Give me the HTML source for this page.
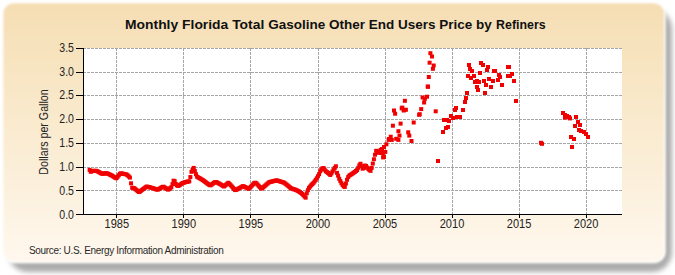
<!DOCTYPE html>
<html><head><meta charset="utf-8"><style>
html,body{margin:0;padding:0;background:#fff;width:675px;height:275px;overflow:hidden}
svg{display:block}
text{font-family:"Liberation Sans",sans-serif}
</style></head><body>
<svg width="675" height="275" viewBox="0 0 675 275">
<defs>
<linearGradient id="bg" x1="0" y1="0" x2="0" y2="1">
<stop offset="0" stop-color="#F5DEB3"/>
<stop offset="1" stop-color="#FFF8EE"/>
</linearGradient>
<filter id="sh" x="-5%" y="-5%" width="110%" height="115%"><feGaussianBlur stdDeviation="2.5"/></filter>
<filter id="bb" x="-5%" y="-5%" width="110%" height="115%"><feGaussianBlur stdDeviation="1.1"/></filter>
<filter id="bw" filterUnits="userSpaceOnUse" x="0" y="250" width="675" height="25"><feGaussianBlur stdDeviation="0.7"/></filter>
</defs>
<rect x="8" y="9" width="664" height="263" rx="20" fill="#acacac" filter="url(#sh)"/>
<rect x="2.5" y="2.5" width="662.5" height="260" rx="11" fill="url(#bg)" stroke="#fff" stroke-width="1.6" filter="url(#bb)"/>

<rect x="83" y="48" width="539" height="166" fill="#fff"/>
<g stroke="#a5a5a5" stroke-width="1" stroke-dasharray="3,1"><line x1="83" y1="190.5" x2="622" y2="190.5"/><line x1="83" y1="167.5" x2="622" y2="167.5"/><line x1="83" y1="143.5" x2="622" y2="143.5"/><line x1="83" y1="119.5" x2="622" y2="119.5"/><line x1="83" y1="95.5" x2="622" y2="95.5"/><line x1="83" y1="72.5" x2="622" y2="72.5"/><line x1="83" y1="48.5" x2="622" y2="48.5"/><line x1="116.5" y1="48" x2="116.5" y2="214"/><line x1="183.5" y1="48" x2="183.5" y2="214"/><line x1="250.5" y1="48" x2="250.5" y2="214"/><line x1="318.5" y1="48" x2="318.5" y2="214"/><line x1="385.5" y1="48" x2="385.5" y2="214"/><line x1="452.5" y1="48" x2="452.5" y2="214"/><line x1="519.5" y1="48" x2="519.5" y2="214"/><line x1="586.5" y1="48" x2="586.5" y2="214"/></g>
<g stroke="#000" stroke-width="1">
<line x1="83.5" y1="48" x2="83.5" y2="214.5"/>
<line x1="83" y1="214.5" x2="622" y2="214.5"/>
<line x1="76" y1="214.5" x2="83" y2="214.5"/><line x1="76" y1="190.5" x2="83" y2="190.5"/><line x1="76" y1="167.5" x2="83" y2="167.5"/><line x1="76" y1="143.5" x2="83" y2="143.5"/><line x1="76" y1="119.5" x2="83" y2="119.5"/><line x1="76" y1="95.5" x2="83" y2="95.5"/><line x1="76" y1="72.5" x2="83" y2="72.5"/><line x1="76" y1="48.5" x2="83" y2="48.5"/><line x1="116.5" y1="214" x2="116.5" y2="218"/><line x1="183.5" y1="214" x2="183.5" y2="218"/><line x1="250.5" y1="214" x2="250.5" y2="218"/><line x1="318.5" y1="214" x2="318.5" y2="218"/><line x1="385.5" y1="214" x2="385.5" y2="218"/><line x1="452.5" y1="214" x2="452.5" y2="218"/><line x1="519.5" y1="214" x2="519.5" y2="218"/><line x1="586.5" y1="214" x2="586.5" y2="218"/>
</g>
<g fill="#f00000"><rect x="87.64" y="167.92" width="4.0" height="4.0"/><rect x="88.76" y="169.79" width="4.0" height="4.0"/><rect x="89.88" y="169.13" width="4.0" height="4.0"/><rect x="91.00" y="168.86" width="4.0" height="4.0"/><rect x="92.12" y="168.86" width="4.0" height="4.0"/><rect x="93.24" y="168.86" width="4.0" height="4.0"/><rect x="94.35" y="168.86" width="4.0" height="4.0"/><rect x="95.47" y="169.27" width="4.0" height="4.0"/><rect x="96.59" y="169.92" width="4.0" height="4.0"/><rect x="97.71" y="170.56" width="4.0" height="4.0"/><rect x="98.83" y="171.20" width="4.0" height="4.0"/><rect x="99.95" y="171.69" width="4.0" height="4.0"/><rect x="101.07" y="171.59" width="4.0" height="4.0"/><rect x="102.19" y="171.49" width="4.0" height="4.0"/><rect x="103.31" y="171.39" width="4.0" height="4.0"/><rect x="104.43" y="171.28" width="4.0" height="4.0"/><rect x="105.55" y="171.51" width="4.0" height="4.0"/><rect x="106.67" y="172.05" width="4.0" height="4.0"/><rect x="107.78" y="172.58" width="4.0" height="4.0"/><rect x="108.90" y="173.12" width="4.0" height="4.0"/><rect x="110.02" y="173.66" width="4.0" height="4.0"/><rect x="111.14" y="174.38" width="4.0" height="4.0"/><rect x="112.26" y="175.10" width="4.0" height="4.0"/><rect x="113.38" y="175.82" width="4.0" height="4.0"/><rect x="114.50" y="176.27" width="4.0" height="4.0"/><rect x="115.62" y="174.77" width="4.0" height="4.0"/><rect x="116.74" y="173.27" width="4.0" height="4.0"/><rect x="117.86" y="171.78" width="4.0" height="4.0"/><rect x="118.98" y="171.37" width="4.0" height="4.0"/><rect x="120.10" y="171.58" width="4.0" height="4.0"/><rect x="121.21" y="171.79" width="4.0" height="4.0"/><rect x="122.33" y="171.99" width="4.0" height="4.0"/><rect x="123.45" y="172.21" width="4.0" height="4.0"/><rect x="124.57" y="172.54" width="4.0" height="4.0"/><rect x="125.69" y="173.37" width="4.0" height="4.0"/><rect x="126.81" y="174.47" width="4.0" height="4.0"/><rect x="127.93" y="175.58" width="4.0" height="4.0"/><rect x="129.05" y="181.32" width="4.0" height="4.0"/><rect x="130.17" y="185.73" width="4.0" height="4.0"/><rect x="131.29" y="185.94" width="4.0" height="4.0"/><rect x="132.41" y="186.31" width="4.0" height="4.0"/><rect x="133.53" y="187.25" width="4.0" height="4.0"/><rect x="134.64" y="188.19" width="4.0" height="4.0"/><rect x="135.76" y="189.12" width="4.0" height="4.0"/><rect x="136.88" y="190.06" width="4.0" height="4.0"/><rect x="138.00" y="189.50" width="4.0" height="4.0"/><rect x="139.12" y="188.65" width="4.0" height="4.0"/><rect x="140.24" y="187.80" width="4.0" height="4.0"/><rect x="141.36" y="186.96" width="4.0" height="4.0"/><rect x="142.48" y="186.11" width="4.0" height="4.0"/><rect x="143.60" y="185.26" width="4.0" height="4.0"/><rect x="144.72" y="184.55" width="4.0" height="4.0"/><rect x="145.84" y="184.84" width="4.0" height="4.0"/><rect x="146.96" y="185.13" width="4.0" height="4.0"/><rect x="148.07" y="185.42" width="4.0" height="4.0"/><rect x="149.19" y="185.70" width="4.0" height="4.0"/><rect x="150.31" y="185.99" width="4.0" height="4.0"/><rect x="151.43" y="186.33" width="4.0" height="4.0"/><rect x="152.55" y="186.75" width="4.0" height="4.0"/><rect x="153.67" y="187.17" width="4.0" height="4.0"/><rect x="154.79" y="187.58" width="4.0" height="4.0"/><rect x="155.91" y="187.58" width="4.0" height="4.0"/><rect x="157.03" y="186.94" width="4.0" height="4.0"/><rect x="158.15" y="186.29" width="4.0" height="4.0"/><rect x="159.27" y="185.65" width="4.0" height="4.0"/><rect x="160.39" y="185.01" width="4.0" height="4.0"/><rect x="161.50" y="184.69" width="4.0" height="4.0"/><rect x="162.62" y="185.42" width="4.0" height="4.0"/><rect x="163.74" y="186.15" width="4.0" height="4.0"/><rect x="164.86" y="186.88" width="4.0" height="4.0"/><rect x="165.98" y="187.60" width="4.0" height="4.0"/><rect x="167.10" y="187.16" width="4.0" height="4.0"/><rect x="168.22" y="186.18" width="4.0" height="4.0"/><rect x="169.34" y="185.19" width="4.0" height="4.0"/><rect x="170.46" y="182.18" width="4.0" height="4.0"/><rect x="171.58" y="178.67" width="4.0" height="4.0"/><rect x="172.70" y="179.19" width="4.0" height="4.0"/><rect x="173.82" y="181.98" width="4.0" height="4.0"/><rect x="174.93" y="183.39" width="4.0" height="4.0"/><rect x="176.05" y="183.88" width="4.0" height="4.0"/><rect x="177.17" y="183.49" width="4.0" height="4.0"/><rect x="178.29" y="182.67" width="4.0" height="4.0"/><rect x="179.41" y="181.85" width="4.0" height="4.0"/><rect x="180.53" y="181.12" width="4.0" height="4.0"/><rect x="181.65" y="180.75" width="4.0" height="4.0"/><rect x="182.77" y="180.38" width="4.0" height="4.0"/><rect x="183.89" y="180.01" width="4.0" height="4.0"/><rect x="185.01" y="179.71" width="4.0" height="4.0"/><rect x="186.13" y="179.54" width="4.0" height="4.0"/><rect x="187.25" y="179.37" width="4.0" height="4.0"/><rect x="188.36" y="175.03" width="4.0" height="4.0"/><rect x="189.48" y="169.85" width="4.0" height="4.0"/><rect x="190.60" y="167.56" width="4.0" height="4.0"/><rect x="191.72" y="165.92" width="4.0" height="4.0"/><rect x="192.84" y="169.09" width="4.0" height="4.0"/><rect x="193.96" y="172.20" width="4.0" height="4.0"/><rect x="195.08" y="174.71" width="4.0" height="4.0"/><rect x="196.20" y="175.37" width="4.0" height="4.0"/><rect x="197.32" y="176.03" width="4.0" height="4.0"/><rect x="198.44" y="176.69" width="4.0" height="4.0"/><rect x="199.56" y="177.35" width="4.0" height="4.0"/><rect x="200.68" y="178.04" width="4.0" height="4.0"/><rect x="201.79" y="178.86" width="4.0" height="4.0"/><rect x="202.91" y="179.68" width="4.0" height="4.0"/><rect x="204.03" y="180.49" width="4.0" height="4.0"/><rect x="205.15" y="181.31" width="4.0" height="4.0"/><rect x="206.27" y="182.13" width="4.0" height="4.0"/><rect x="207.39" y="182.95" width="4.0" height="4.0"/><rect x="208.51" y="183.36" width="4.0" height="4.0"/><rect x="209.63" y="182.52" width="4.0" height="4.0"/><rect x="210.75" y="181.67" width="4.0" height="4.0"/><rect x="211.87" y="180.82" width="4.0" height="4.0"/><rect x="212.99" y="180.19" width="4.0" height="4.0"/><rect x="214.11" y="179.96" width="4.0" height="4.0"/><rect x="215.22" y="180.56" width="4.0" height="4.0"/><rect x="216.34" y="181.16" width="4.0" height="4.0"/><rect x="217.46" y="181.76" width="4.0" height="4.0"/><rect x="218.58" y="182.40" width="4.0" height="4.0"/><rect x="219.70" y="183.10" width="4.0" height="4.0"/><rect x="220.82" y="183.81" width="4.0" height="4.0"/><rect x="221.94" y="184.52" width="4.0" height="4.0"/><rect x="223.06" y="183.56" width="4.0" height="4.0"/><rect x="224.18" y="182.60" width="4.0" height="4.0"/><rect x="225.30" y="181.64" width="4.0" height="4.0"/><rect x="226.42" y="180.77" width="4.0" height="4.0"/><rect x="227.54" y="181.99" width="4.0" height="4.0"/><rect x="228.65" y="183.20" width="4.0" height="4.0"/><rect x="229.77" y="184.42" width="4.0" height="4.0"/><rect x="230.89" y="185.64" width="4.0" height="4.0"/><rect x="232.01" y="186.85" width="4.0" height="4.0"/><rect x="233.13" y="188.07" width="4.0" height="4.0"/><rect x="234.25" y="187.82" width="4.0" height="4.0"/><rect x="235.37" y="187.21" width="4.0" height="4.0"/><rect x="236.49" y="186.59" width="4.0" height="4.0"/><rect x="237.61" y="185.98" width="4.0" height="4.0"/><rect x="238.73" y="185.37" width="4.0" height="4.0"/><rect x="239.85" y="184.75" width="4.0" height="4.0"/><rect x="240.97" y="184.14" width="4.0" height="4.0"/><rect x="242.08" y="184.52" width="4.0" height="4.0"/><rect x="243.20" y="185.08" width="4.0" height="4.0"/><rect x="244.32" y="185.65" width="4.0" height="4.0"/><rect x="245.44" y="186.21" width="4.0" height="4.0"/><rect x="246.56" y="186.77" width="4.0" height="4.0"/><rect x="247.68" y="185.93" width="4.0" height="4.0"/><rect x="248.80" y="184.74" width="4.0" height="4.0"/><rect x="249.92" y="183.54" width="4.0" height="4.0"/><rect x="251.04" y="182.35" width="4.0" height="4.0"/><rect x="252.16" y="181.15" width="4.0" height="4.0"/><rect x="253.28" y="180.72" width="4.0" height="4.0"/><rect x="254.40" y="181.27" width="4.0" height="4.0"/><rect x="255.51" y="182.53" width="4.0" height="4.0"/><rect x="256.63" y="183.78" width="4.0" height="4.0"/><rect x="257.75" y="185.03" width="4.0" height="4.0"/><rect x="258.87" y="186.29" width="4.0" height="4.0"/><rect x="259.99" y="186.38" width="4.0" height="4.0"/><rect x="261.11" y="185.41" width="4.0" height="4.0"/><rect x="262.23" y="184.44" width="4.0" height="4.0"/><rect x="263.35" y="183.47" width="4.0" height="4.0"/><rect x="264.47" y="182.50" width="4.0" height="4.0"/><rect x="265.59" y="181.53" width="4.0" height="4.0"/><rect x="266.71" y="180.56" width="4.0" height="4.0"/><rect x="267.83" y="180.06" width="4.0" height="4.0"/><rect x="268.94" y="179.77" width="4.0" height="4.0"/><rect x="270.06" y="179.49" width="4.0" height="4.0"/><rect x="271.18" y="179.21" width="4.0" height="4.0"/><rect x="272.30" y="178.93" width="4.0" height="4.0"/><rect x="273.42" y="178.64" width="4.0" height="4.0"/><rect x="274.54" y="178.36" width="4.0" height="4.0"/><rect x="275.66" y="178.68" width="4.0" height="4.0"/><rect x="276.78" y="179.03" width="4.0" height="4.0"/><rect x="277.90" y="179.38" width="4.0" height="4.0"/><rect x="279.02" y="179.72" width="4.0" height="4.0"/><rect x="280.14" y="180.07" width="4.0" height="4.0"/><rect x="281.26" y="180.42" width="4.0" height="4.0"/><rect x="282.37" y="180.83" width="4.0" height="4.0"/><rect x="283.49" y="181.74" width="4.0" height="4.0"/><rect x="284.61" y="182.66" width="4.0" height="4.0"/><rect x="285.73" y="183.57" width="4.0" height="4.0"/><rect x="286.85" y="184.48" width="4.0" height="4.0"/><rect x="287.97" y="185.39" width="4.0" height="4.0"/><rect x="289.09" y="186.30" width="4.0" height="4.0"/><rect x="290.21" y="186.73" width="4.0" height="4.0"/><rect x="291.33" y="187.09" width="4.0" height="4.0"/><rect x="292.45" y="187.45" width="4.0" height="4.0"/><rect x="293.57" y="187.81" width="4.0" height="4.0"/><rect x="294.69" y="188.33" width="4.0" height="4.0"/><rect x="295.80" y="188.87" width="4.0" height="4.0"/><rect x="296.92" y="189.47" width="4.0" height="4.0"/><rect x="298.04" y="190.22" width="4.0" height="4.0"/><rect x="299.16" y="190.98" width="4.0" height="4.0"/><rect x="300.28" y="192.06" width="4.0" height="4.0"/><rect x="301.40" y="193.24" width="4.0" height="4.0"/><rect x="302.52" y="194.44" width="4.0" height="4.0"/><rect x="303.64" y="195.66" width="4.0" height="4.0"/><rect x="304.76" y="191.38" width="4.0" height="4.0"/><rect x="305.88" y="188.24" width="4.0" height="4.0"/><rect x="307.00" y="185.89" width="4.0" height="4.0"/><rect x="308.12" y="184.57" width="4.0" height="4.0"/><rect x="309.23" y="183.25" width="4.0" height="4.0"/><rect x="310.35" y="182.05" width="4.0" height="4.0"/><rect x="311.47" y="180.86" width="4.0" height="4.0"/><rect x="312.59" y="179.49" width="4.0" height="4.0"/><rect x="313.71" y="177.91" width="4.0" height="4.0"/><rect x="314.83" y="176.29" width="4.0" height="4.0"/><rect x="315.95" y="174.22" width="4.0" height="4.0"/><rect x="317.07" y="172.15" width="4.0" height="4.0"/><rect x="318.19" y="169.34" width="4.0" height="4.0"/><rect x="319.31" y="167.54" width="4.0" height="4.0"/><rect x="320.43" y="166.35" width="4.0" height="4.0"/><rect x="321.55" y="166.05" width="4.0" height="4.0"/><rect x="322.66" y="167.63" width="4.0" height="4.0"/><rect x="323.78" y="169.21" width="4.0" height="4.0"/><rect x="324.90" y="170.07" width="4.0" height="4.0"/><rect x="326.02" y="170.86" width="4.0" height="4.0"/><rect x="327.14" y="171.82" width="4.0" height="4.0"/><rect x="328.26" y="172.95" width="4.0" height="4.0"/><rect x="329.38" y="171.47" width="4.0" height="4.0"/><rect x="330.50" y="169.50" width="4.0" height="4.0"/><rect x="331.62" y="167.64" width="4.0" height="4.0"/><rect x="332.74" y="165.95" width="4.0" height="4.0"/><rect x="333.86" y="164.26" width="4.0" height="4.0"/><rect x="334.98" y="170.85" width="4.0" height="4.0"/><rect x="336.09" y="173.68" width="4.0" height="4.0"/><rect x="337.21" y="176.74" width="4.0" height="4.0"/><rect x="338.33" y="179.09" width="4.0" height="4.0"/><rect x="339.45" y="181.20" width="4.0" height="4.0"/><rect x="340.57" y="183.02" width="4.0" height="4.0"/><rect x="341.69" y="184.31" width="4.0" height="4.0"/><rect x="342.81" y="184.92" width="4.0" height="4.0"/><rect x="343.93" y="181.51" width="4.0" height="4.0"/><rect x="345.05" y="177.80" width="4.0" height="4.0"/><rect x="346.17" y="175.07" width="4.0" height="4.0"/><rect x="347.29" y="173.62" width="4.0" height="4.0"/><rect x="348.41" y="172.90" width="4.0" height="4.0"/><rect x="349.52" y="172.18" width="4.0" height="4.0"/><rect x="350.64" y="171.43" width="4.0" height="4.0"/><rect x="351.76" y="170.68" width="4.0" height="4.0"/><rect x="352.88" y="169.86" width="4.0" height="4.0"/><rect x="354.00" y="168.96" width="4.0" height="4.0"/><rect x="355.12" y="168.06" width="4.0" height="4.0"/><rect x="356.24" y="165.80" width="4.0" height="4.0"/><rect x="357.36" y="163.29" width="4.0" height="4.0"/><rect x="358.48" y="161.76" width="4.0" height="4.0"/><rect x="359.60" y="164.21" width="4.0" height="4.0"/><rect x="360.72" y="166.66" width="4.0" height="4.0"/><rect x="361.84" y="165.86" width="4.0" height="4.0"/><rect x="362.95" y="163.54" width="4.0" height="4.0"/><rect x="364.07" y="163.96" width="4.0" height="4.0"/><rect x="365.19" y="165.61" width="4.0" height="4.0"/><rect x="366.31" y="166.85" width="4.0" height="4.0"/><rect x="367.43" y="167.93" width="4.0" height="4.0"/><rect x="368.55" y="168.86" width="4.0" height="4.0"/><rect x="369.67" y="165.92" width="4.0" height="4.0"/><rect x="370.79" y="161.59" width="4.0" height="4.0"/><rect x="371.91" y="157.24" width="4.0" height="4.0"/><rect x="373.03" y="152.74" width="4.0" height="4.0"/><rect x="374.15" y="148.79" width="4.0" height="4.0"/><rect x="375.27" y="149.61" width="4.0" height="4.0"/><rect x="376.38" y="150.84" width="4.0" height="4.0"/><rect x="377.50" y="149.40" width="4.0" height="4.0"/><rect x="378.62" y="147.97" width="4.0" height="4.0"/><rect x="379.74" y="147.90" width="4.0" height="4.0"/><rect x="380.86" y="151.37" width="4.0" height="4.0"/><rect x="381.98" y="154.95" width="4.0" height="4.0"/><rect x="383.30" y="149.90" width="4.0" height="4.0"/><rect x="387.00" y="137.00" width="4.0" height="4.0"/><rect x="380.00" y="147.00" width="4.0" height="4.0"/><rect x="379.00" y="151.00" width="4.0" height="4.0"/><rect x="382.00" y="145.00" width="4.0" height="4.0"/><rect x="384.40" y="142.30" width="4.0" height="4.0"/><rect x="386.60" y="137.90" width="4.0" height="4.0"/><rect x="388.70" y="134.70" width="4.0" height="4.0"/><rect x="389.80" y="137.90" width="4.0" height="4.0"/><rect x="394.20" y="136.80" width="4.0" height="4.0"/><rect x="396.40" y="137.90" width="4.0" height="4.0"/><rect x="397.50" y="133.60" width="4.0" height="4.0"/><rect x="396.40" y="129.20" width="4.0" height="4.0"/><rect x="390.90" y="123.70" width="4.0" height="4.0"/><rect x="398.60" y="121.60" width="4.0" height="4.0"/><rect x="392.00" y="108.50" width="4.0" height="4.0"/><rect x="393.10" y="111.70" width="4.0" height="4.0"/><rect x="399.70" y="106.30" width="4.0" height="4.0"/><rect x="401.80" y="108.50" width="4.0" height="4.0"/><rect x="406.20" y="130.30" width="4.0" height="4.0"/><rect x="407.30" y="133.60" width="4.0" height="4.0"/><rect x="409.50" y="139.00" width="4.0" height="4.0"/><rect x="411.70" y="120.50" width="4.0" height="4.0"/><rect x="417.10" y="112.80" width="4.0" height="4.0"/><rect x="381.10" y="155.40" width="4.0" height="4.0"/><rect x="400.30" y="105.60" width="4.0" height="4.0"/><rect x="401.70" y="107.80" width="4.0" height="4.0"/><rect x="403.90" y="107.80" width="4.0" height="4.0"/><rect x="402.90" y="98.80" width="4.0" height="4.0"/><rect x="417.70" y="112.20" width="4.0" height="4.0"/><rect x="419.20" y="107.10" width="4.0" height="4.0"/><rect x="420.60" y="95.50" width="4.0" height="4.0"/><rect x="422.10" y="100.50" width="4.0" height="4.0"/><rect x="422.80" y="96.90" width="4.0" height="4.0"/><rect x="425.00" y="94.70" width="4.0" height="4.0"/><rect x="425.70" y="84.50" width="4.0" height="4.0"/><rect x="433.70" y="109.30" width="4.0" height="4.0"/><rect x="428.40" y="51.20" width="4.0" height="4.0"/><rect x="430.00" y="54.50" width="4.0" height="4.0"/><rect x="427.60" y="60.70" width="4.0" height="4.0"/><rect x="431.70" y="63.50" width="4.0" height="4.0"/><rect x="430.90" y="66.80" width="4.0" height="4.0"/><rect x="426.80" y="75.00" width="4.0" height="4.0"/><rect x="426.00" y="84.80" width="4.0" height="4.0"/><rect x="436.00" y="159.00" width="4.0" height="4.0"/><rect x="441.00" y="130.00" width="4.0" height="4.0"/><rect x="444.00" y="126.00" width="4.0" height="4.0"/><rect x="446.00" y="125.00" width="4.0" height="4.0"/><rect x="442.00" y="118.00" width="4.0" height="4.0"/><rect x="445.00" y="118.00" width="4.0" height="4.0"/><rect x="447.00" y="119.00" width="4.0" height="4.0"/><rect x="449.00" y="114.00" width="4.0" height="4.0"/><rect x="451.00" y="116.00" width="4.0" height="4.0"/><rect x="453.00" y="108.00" width="4.0" height="4.0"/><rect x="454.00" y="106.00" width="4.0" height="4.0"/><rect x="455.00" y="115.00" width="4.0" height="4.0"/><rect x="458.00" y="115.00" width="4.0" height="4.0"/><rect x="461.00" y="108.00" width="4.0" height="4.0"/><rect x="463.00" y="100.00" width="4.0" height="4.0"/><rect x="464.00" y="96.00" width="4.0" height="4.0"/><rect x="465.00" y="91.00" width="4.0" height="4.0"/><rect x="467.00" y="63.00" width="4.0" height="4.0"/><rect x="468.00" y="67.00" width="4.0" height="4.0"/><rect x="470.00" y="69.00" width="4.0" height="4.0"/><rect x="466.00" y="74.00" width="4.0" height="4.0"/><rect x="469.00" y="76.00" width="4.0" height="4.0"/><rect x="472.00" y="74.00" width="4.0" height="4.0"/><rect x="473.00" y="80.00" width="4.0" height="4.0"/><rect x="475.00" y="79.00" width="4.0" height="4.0"/><rect x="477.00" y="80.00" width="4.0" height="4.0"/><rect x="475.00" y="85.00" width="4.0" height="4.0"/><rect x="476.00" y="88.00" width="4.0" height="4.0"/><rect x="478.00" y="71.00" width="4.0" height="4.0"/><rect x="479.00" y="61.00" width="4.0" height="4.0"/><rect x="481.00" y="63.00" width="4.0" height="4.0"/><rect x="482.00" y="79.00" width="4.0" height="4.0"/><rect x="483.00" y="91.00" width="4.0" height="4.0"/><rect x="484.00" y="83.00" width="4.0" height="4.0"/><rect x="485.00" y="68.00" width="4.0" height="4.0"/><rect x="486.00" y="65.00" width="4.0" height="4.0"/><rect x="487.00" y="77.00" width="4.0" height="4.0"/><rect x="489.00" y="85.00" width="4.0" height="4.0"/><rect x="491.00" y="79.00" width="4.0" height="4.0"/><rect x="492.00" y="69.00" width="4.0" height="4.0"/><rect x="496.00" y="78.00" width="4.0" height="4.0"/><rect x="497.00" y="73.00" width="4.0" height="4.0"/><rect x="498.00" y="75.00" width="4.0" height="4.0"/><rect x="500.00" y="83.00" width="4.0" height="4.0"/><rect x="506.00" y="65.00" width="4.0" height="4.0"/><rect x="506.00" y="74.00" width="4.0" height="4.0"/><rect x="493.00" y="69.00" width="4.0" height="4.0"/><rect x="507.00" y="65.00" width="4.0" height="4.0"/><rect x="508.00" y="74.00" width="4.0" height="4.0"/><rect x="510.00" y="72.00" width="4.0" height="4.0"/><rect x="512.00" y="79.00" width="4.0" height="4.0"/><rect x="514.00" y="99.00" width="4.0" height="4.0"/><rect x="539.00" y="140.80" width="4.0" height="4.0"/><rect x="540.00" y="141.80" width="4.0" height="4.0"/><rect x="561.00" y="111.00" width="4.0" height="4.0"/><rect x="563.00" y="113.00" width="4.0" height="4.0"/><rect x="565.00" y="114.00" width="4.0" height="4.0"/><rect x="567.00" y="115.00" width="4.0" height="4.0"/><rect x="568.00" y="116.40" width="4.0" height="4.0"/><rect x="563.00" y="115.60" width="4.0" height="4.0"/><rect x="574.00" y="115.00" width="4.0" height="4.0"/><rect x="576.00" y="120.00" width="4.0" height="4.0"/><rect x="573.00" y="124.00" width="4.0" height="4.0"/><rect x="578.00" y="123.00" width="4.0" height="4.0"/><rect x="577.00" y="128.00" width="4.0" height="4.0"/><rect x="579.00" y="129.00" width="4.0" height="4.0"/><rect x="582.00" y="130.00" width="4.0" height="4.0"/><rect x="584.00" y="132.00" width="4.0" height="4.0"/><rect x="586.00" y="135.00" width="4.0" height="4.0"/><rect x="569.00" y="135.00" width="4.0" height="4.0"/><rect x="572.00" y="137.00" width="4.0" height="4.0"/><rect x="570.00" y="145.00" width="4.0" height="4.0"/></g>
<g font-size="12" fill="#222" text-anchor="end"><text transform="translate(74 218.6) scale(0.88 1)">0.0</text><text transform="translate(74 194.6) scale(0.88 1)">0.5</text><text transform="translate(74 170.6) scale(0.88 1)">1.0</text><text transform="translate(74 146.6) scale(0.88 1)">1.5</text><text transform="translate(74 122.6) scale(0.88 1)">2.0</text><text transform="translate(74 98.6) scale(0.88 1)">2.5</text><text transform="translate(74 75.6) scale(0.88 1)">3.0</text><text transform="translate(74 51.6) scale(0.88 1)">3.5</text></g>
<g font-size="12" fill="#222" text-anchor="middle"><text transform="translate(116.80 228) scale(0.92 1)">1985</text><text transform="translate(183.84 228) scale(0.92 1)">1990</text><text transform="translate(250.88 228) scale(0.92 1)">1995</text><text transform="translate(317.92 228) scale(0.92 1)">2000</text><text transform="translate(384.96 228) scale(0.92 1)">2005</text><text transform="translate(452.00 228) scale(0.92 1)">2010</text><text transform="translate(519.04 228) scale(0.92 1)">2015</text><text transform="translate(586.08 228) scale(0.92 1)">2020</text></g>
<text y="28.5" font-size="13.5" font-weight="bold" fill="#111"><tspan x="125" textLength="139.3" lengthAdjust="spacingAndGlyphs">Monthly Florida Total</tspan><tspan x="268.3">Gasoline Other End Users Price by</tspan><tspan x="496.1" textLength="49.6" lengthAdjust="spacingAndGlyphs">Refiners</tspan></text>
<text transform="translate(48.3,132) rotate(-90) scale(0.89 1)" font-size="12" text-anchor="middle" fill="#222">Dollars per Gallon</text>
<text x="29" y="253.6" font-size="10" letter-spacing="-0.33" fill="#2a2a2a">Source: U.S. Energy Information Administration</text>
</svg>
</body></html>
